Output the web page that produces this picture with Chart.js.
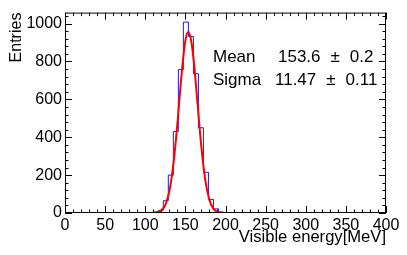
<!DOCTYPE html>
<html>
<head>
<meta charset="utf-8">
<script src="https://cdn.jsdelivr.net/npm/chart.js@4/dist/chart.umd.min.js"></script>
<style>
  html, body { margin: 0; padding: 0; background: #fff; }
  #wrap { width: 407px; height: 255px; }
</style>
</head>
<body>
<div id="wrap"><canvas id="c" width="407" height="255"></canvas></div>
<script>
// histogram bins (low edges + last high edge) and entries
const histEdges = [110, 116.25, 122.5, 128.75, 135, 141.25, 147.5, 153.75, 160, 166.25, 172.5, 178.75, 185, 191.25, 197.5, 203.75];
const histCounts = [3, 14, 65, 200, 430, 757, 1008, 932, 735, 450, 215, 72, 22, 5, 1];

// gaussian fit curve
const fitX = [0, 100, 105, 110, 115, 120, 125, 130, 135, 140, 145, 150, 153.6, 157, 160, 165, 170, 175, 180, 185, 190, 195, 200, 210, 300];
const fitY = [0, 0, 0.5, 2, 5, 13, 43, 115, 255, 470, 720, 910, 956, 915, 820, 585, 345, 168, 68, 22, 6, 1, 0, 0, 0];

const xTicks = [0, 50, 100, 150, 200, 250, 300, 350, 400];
const yTicks = [0, 200, 400, 600, 800, 1000];

const statNames = ["Mean", "Sigma"];
const statValues = ["153.6", "11.47"];
const statErrors = ["0.2", "0.11"];

const FONT = "'Liberation Sans', Arial, Helvetica, sans-serif";

// histogram as a step line
const histPoints = [{ x: 0, y: 0 }];
histCounts.forEach((v, i) => histPoints.push({ x: histEdges[i], y: v }));
histPoints.push({ x: histEdges[histEdges.length - 1], y: 0 });
histPoints.push({ x: 400, y: 0 });

const fitPoints = fitX.map((x, i) => ({ x: x, y: fitY[i] }));

// frame + inward ticks (ROOT style) and the stats text
const frameAndStats = {
  id: "frameAndStats",
  afterDatasetsDraw(chart) {
    const { ctx, chartArea: a, scales } = chart;
    const xs = scales.x, ys = scales.y;
    ctx.save();
    ctx.strokeStyle = "#000";
    ctx.lineWidth = 1;
    ctx.strokeRect(a.left + 0.5, a.top + 0.5, a.right - a.left - 1, a.bottom - a.top - 1);
    ctx.beginPath();
    for (let v = 0; v <= 400; v += 10) {
      const px = Math.round(xs.getPixelForValue(v)) + 0.5;
      const len = v % 50 === 0 ? 7 : 3.5;
      ctx.moveTo(px, a.bottom);
      ctx.lineTo(px, a.bottom - len);
      ctx.moveTo(px, a.top);
      ctx.lineTo(px, a.top + len);
    }
    for (let v = 0; v <= ys.max; v += 40) {
      const py = Math.round(ys.getPixelForValue(v)) + 0.5;
      const len = v % 200 === 0 ? 7 : 3.5;
      ctx.moveTo(a.left, py);
      ctx.lineTo(a.left + len, py);
      ctx.moveTo(a.right, py);
      ctx.lineTo(a.right - len, py);
    }
    ctx.stroke();

    // fit results text (no border, like the reference)
    ctx.fillStyle = "#000";
    ctx.font = "17px " + FONT;
    ctx.textBaseline = "middle";
    ctx.textAlign = "left";
    const rowY = [57, 80];
    const valX = [278, 275];
    statNames.forEach((name, i) => {
      ctx.fillText(name, 213, rowY[i]);
      let x = valX[i];
      ctx.fillText(statValues[i], x, rowY[i]);
      x += ctx.measureText(statValues[i]).width + 10;
      ctx.fillText("\u00b1", x, rowY[i]);
      x += ctx.measureText("\u00b1").width + 10;
      ctx.fillText(statErrors[i], x, rowY[i]);
    });
    ctx.restore();
  },
};

new Chart(document.getElementById("c"), {
  type: "line",
  data: {
    datasets: [
      {
        data: fitPoints,
        borderColor: "#ff0000",
        borderWidth: 2,
        pointRadius: 0,
        cubicInterpolationMode: "monotone",
        fill: false,
        order: 0,
      },
      {
        data: histPoints,
        borderColor: "#1a1aee",
        borderWidth: 1,
        pointRadius: 0,
        stepped: true,
        fill: false,
        order: 1,
      },
    ],
  },
  options: {
    responsive: false,
    animation: false,
    devicePixelRatio: 1,
    layout: { padding: { top: 7, right: 21, left: 0, bottom: 0 } },
    plugins: { legend: { display: false }, tooltip: { enabled: false } },
    scales: {
      x: {
        type: "linear",
        min: 0,
        max: 400,
        afterFit: (s) => { s.height = 42; },
        afterBuildTicks: (s) => { s.ticks = xTicks.map((v) => ({ value: v })); },
        grid: { display: false, drawTicks: false },
        border: { display: false },
        ticks: {
          color: "#000",
          font: { family: FONT, size: 16 },
          padding: 3,
          maxRotation: 0,
          autoSkip: false,
          callback: (v) => String(v),
        },
        title: {
          display: true,
          text: "Visible energy[MeV]",
          align: "end",
          color: "#000",
          font: { family: FONT, size: 16.6 },
          padding: { top: 0, bottom: 8 },
        },
      },
      y: {
        type: "linear",
        min: 0,
        max: 1058,
        afterFit: (s) => { s.width = 65; },
        afterBuildTicks: (s) => { s.ticks = yTicks.map((v) => ({ value: v })); },
        grid: { display: false, drawTicks: false },
        border: { display: false },
        ticks: {
          color: "#000",
          font: { family: FONT, size: 16 },
          padding: 3,
          autoSkip: false,
          callback: (v) => String(v),
        },
        title: {
          display: true,
          text: "Entries",
          align: "end",
          color: "#000",
          font: { family: FONT, size: 16 },
          padding: { top: 7, bottom: 0 },
        },
      },
    },
  },
  plugins: [frameAndStats],
});
</script>
</body>
</html>
